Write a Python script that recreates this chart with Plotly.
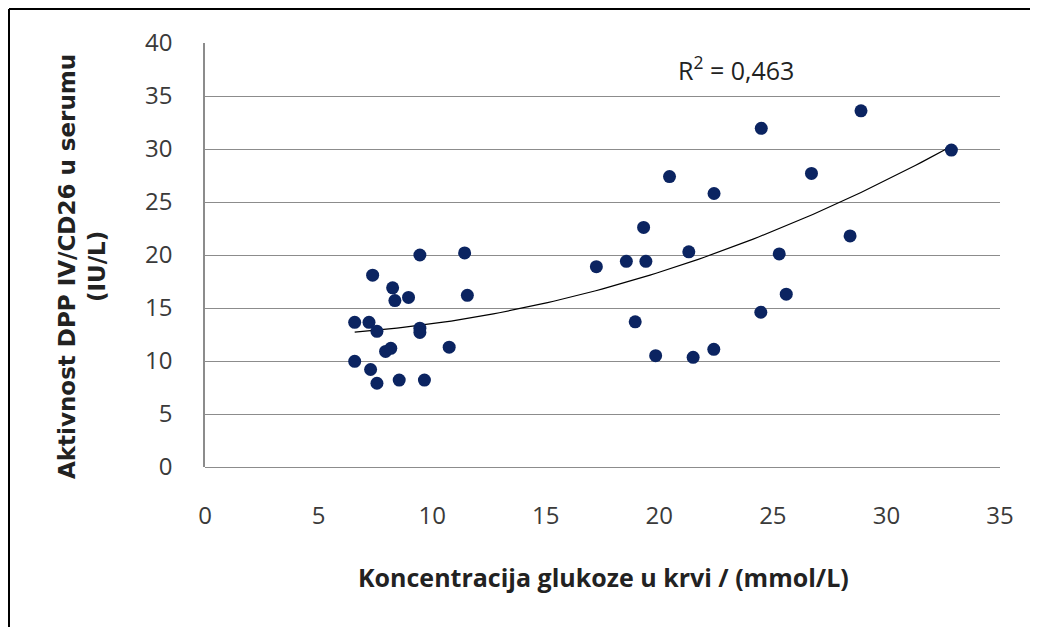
import numpy as np
import plotly.graph_objects as go

# Data
glukoza = [9.46, 11.43, 7.38, 8.26, 8.36, 8.96, 11.55, 6.59, 7.22, 7.57,
           9.46, 9.46, 10.75, 7.95, 8.18, 6.59, 7.29, 7.57, 8.55, 9.66,
           28.88, 24.49, 32.86, 20.45, 26.7, 22.41, 19.31, 28.4, 21.3, 25.28,
           17.23, 18.55, 19.41, 25.59, 24.47, 18.94, 19.84, 21.49, 22.4]
dpp = [20.0, 20.2, 18.1, 16.9, 15.7, 16.0, 16.2, 13.65, 13.65, 12.8,
       13.1, 12.7, 11.3, 10.9, 11.2, 9.97, 9.2, 7.9, 8.2, 8.2,
       33.6, 31.95, 29.9, 27.4, 27.7, 25.8, 22.6, 21.8, 20.3, 20.1,
       18.9, 19.4, 19.4, 16.3, 14.6, 13.7, 10.5, 10.35, 11.1]
x_ticks = [0, 5, 10, 15, 20, 25, 30, 35]
y_ticks = [0, 5, 10, 15, 20, 25, 30, 35, 40]
r2_label = "R<sup>2</sup> = 0,463"
x_title = "Koncentracija glukoze u krvi / (mmol/L)"
y_title = "Aktivnost DPP IV/CD26 u serumu<br>(IU/L)"

# second-order polynomial trendline fitted to the data
coef = np.polyfit(glukoza, dpp, 2)
xt = np.linspace(min(glukoza), max(glukoza), 100)
yt = np.polyval(coef, xt)

fig = go.Figure()
fig.add_trace(go.Scatter(x=xt, y=yt, mode="lines",
                         line=dict(color="black", width=1.2), hoverinfo="skip"))
fig.add_trace(go.Scatter(x=glukoza, y=dpp, mode="markers",
                         marker=dict(color="#0b2461", size=13)))

OFF = 8  # page body margin
W, H = 1030, 619
L, R, T, B = 197, 38, 35, 160
pw, ph = W - L - R, H - T - B

def px(sx):
    return (sx - OFF - L) / pw

def py(sy):
    return (H - B - (sy - OFF)) / ph

fig.update_layout(
    width=W, height=H,
    margin=dict(l=L, r=R, t=T, b=B),
    paper_bgcolor="white", plot_bgcolor="white",
    showlegend=False,
    font=dict(family="Open Sans, sans-serif", color="#333333"),
    xaxis=dict(range=[0, 35], tickvals=x_ticks, showgrid=False, zeroline=False,
               showline=False, ticks="", tickfont=dict(size=24, color="#3a3a3a"),
               ticklabelstandoff=32),
    yaxis=dict(range=[0, 40], tickvals=y_ticks, showgrid=True, gridcolor="#8c8c8c",
               gridwidth=1, zeroline=True, zerolinecolor="#8c8c8c", zerolinewidth=1,
               showline=True, linecolor="#8c8c8c", linewidth=1.5, ticks="",
               tickfont=dict(size=24, color="#3a3a3a"), ticklabelstandoff=26),
    annotations=[
        dict(x=px(736), y=py(68), xref="paper", yref="paper",
             xanchor="center", yanchor="middle",
             text=r2_label, showarrow=False,
             font=dict(family="Open Sans, sans-serif", size=25, color="#222")),
        dict(x=px(603), y=py(577), xref="paper", yref="paper",
             xanchor="center", yanchor="middle",
             text=x_title, showarrow=False,
             font=dict(family="Open Sans, sans-serif", size=25, color="#222", weight=700)),
        dict(x=px(82), y=py(267), xref="paper", yref="paper",
             xanchor="center", yanchor="middle",
             text=y_title, showarrow=False, textangle=-90,
             font=dict(family="DejaVu Sans, sans-serif", size=23, color="#222", weight=700)),
    ],
    shapes=[
        dict(type="line", xref="paper", yref="paper", x0=px(9), x1=px(1040),
             y0=py(9), y1=py(9), line=dict(color="black", width=2)),
        dict(type="line", xref="paper", yref="paper", x0=px(9), x1=px(9),
             y0=py(9), y1=py(640), line=dict(color="black", width=2)),
    ],
)

fig.write_html("out.html")
